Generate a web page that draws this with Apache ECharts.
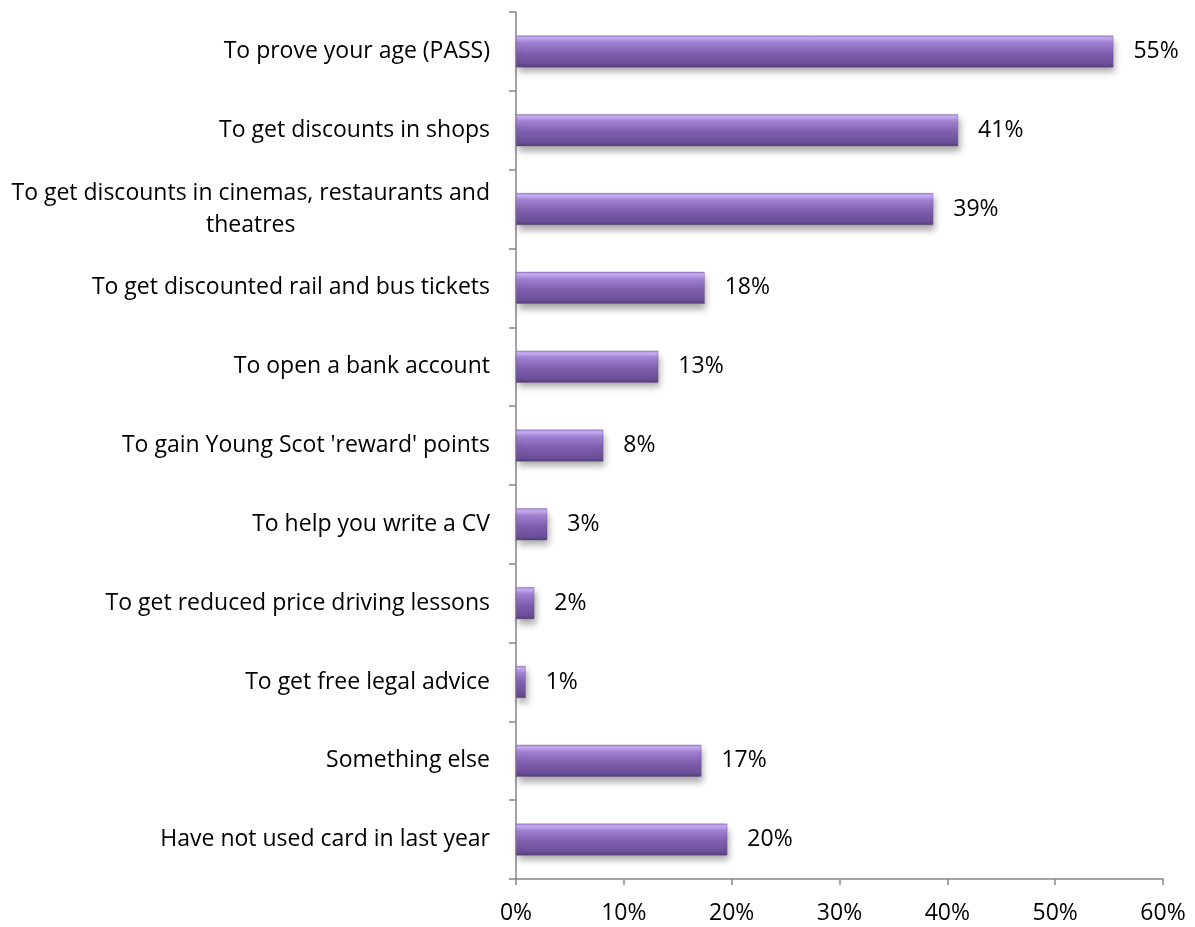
<!DOCTYPE html>
<html>
<head>
<meta charset="utf-8">
<script src="https://cdn.jsdelivr.net/npm/echarts@6/dist/echarts.min.js"></script>
<style>
html,body{margin:0;padding:0;background:#fff;}
#chart{width:1195px;height:927px;}
</style>
</head>
<body>
<div id="chart"></div>
<script>
const categories = [
  "To prove your age (PASS)",
  "To get discounts in shops",
  "To get discounts in cinemas, restaurants and\ntheatres",
  "To get discounted rail and bus tickets",
  "To open a bank account",
  "To gain Young Scot 'reward' points",
  "To help you write a CV",
  "To get reduced price driving lessons",
  "To get free legal advice",
  "Something else",
  "Have not used card in last year"
];
const values = [55.4, 41.0, 38.7, 17.5, 13.2, 8.1, 2.9, 1.7, 0.9, 17.2, 19.6];
const labels = ["55%", "41%", "39%", "18%", "13%", "8%", "3%", "2%", "1%", "17%", "20%"];
const xTicks = [0, 10, 20, 30, 40, 50, 60];

const FONT = "Open Sans";
const FS = 23;
const chart = echarts.init(document.getElementById('chart'));
const barGrad = new echarts.graphic.LinearGradient(0, 0, 0, 1, [
  {offset: 0, color: '#a385d2'},
  {offset: 0.08, color: '#c7aef2'},
  {offset: 0.22, color: '#a282d4'},
  {offset: 0.55, color: '#7f5fae'},
  {offset: 0.88, color: '#6b4f98'},
  {offset: 1, color: '#553e77'}
]);
chart.setOption({
  animation: false,
  grid: {left: 516, right: 32, top: 12, bottom: 48, containLabel: false},
  xAxis: {
    type: 'value', min: 0, max: 60, interval: 10,
    axisLine: {show: true, lineStyle: {color: '#868686', width: 1.5}},
    axisTick: {show: true, length: 6, lineStyle: {color: '#868686', width: 1.5}},
    splitLine: {show: false},
    axisLabel: {
      formatter: v => xTicks.indexOf(v) >= 0 ? v + '%' : '',
      color: '#000', fontFamily: FONT, fontSize: FS, margin: 23
    }
  },
  yAxis: {
    type: 'category', data: categories, inverse: true,
    axisLine: {show: true, lineStyle: {color: '#868686', width: 1.5}},
    axisTick: {show: true, length: 7, lineStyle: {color: '#868686', width: 1.5}},
    axisLabel: {
      color: '#000', fontFamily: FONT, fontSize: FS, margin: 26,
      formatter: v => v.indexOf('\n') >= 0 ? v.split('\n').map(s => '{c|' + s + '}').join('\n') : v,
      rich: {c: {align: 'center', fontFamily: FONT, fontSize: FS, color: '#000', lineHeight: 32}}
    }
  },
  series: [{
    type: 'bar', data: values, barWidth: 32,
    itemStyle: {
      color: barGrad,
      borderColor: 'rgba(90,66,125,0.6)', borderWidth: 0.5,
      shadowColor: 'rgba(0,0,0,0.35)', shadowBlur: 7, shadowOffsetX: 2, shadowOffsetY: 5
    },
    label: {
      show: true, position: 'right', distance: 20,
      formatter: p => labels[p.dataIndex],
      color: '#000', fontFamily: FONT, fontSize: FS
    }
  }]
});
</script>
</body>
</html>
